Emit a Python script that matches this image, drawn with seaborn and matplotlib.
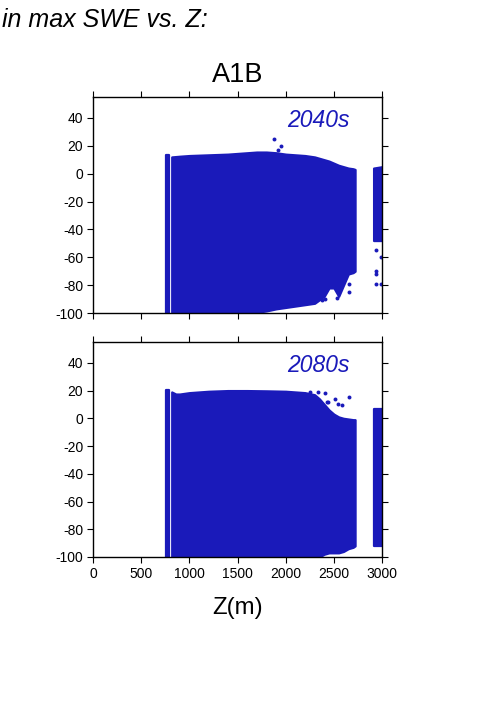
import numpy as np
import pandas as pd
import matplotlib
matplotlib.use("Agg")
import matplotlib.pyplot as plt
import seaborn as sns

sns.set_style("ticks")
plt.rcParams['font.family'] = ['Liberation Sans', 'DejaVu Sans']
plt.rcParams['axes.unicode_minus'] = False
plt.rcParams['text.color'] = 'black'
plt.rcParams['axes.labelcolor'] = 'black'
plt.rcParams['xtick.color'] = 'black'
plt.rcParams['ytick.color'] = 'black'
plt.rcParams['axes.edgecolor'] = 'black'

BLUE = '#1a1aba'

# ---- data ----
periods = ["2040s", "2080s"]

# left isolated column of points (elevation range, top value)
strip_x = [760, 786]
strip_top_2040 = [13.3, 13.3]
strip_top_2080 = [20.5, 20.5]

# main dense cloud envelope
elev_2040 = [817, 900, 1000, 1200, 1400, 1600, 1700, 1800, 1900, 2000, 2100, 2200,
             2300, 2400, 2450, 2500, 2550, 2600, 2650, 2700, 2720]
top_2040 = [12, 12.5, 13, 13.5, 14, 15, 15.5, 15.5, 15, 14, 13.5, 13,
            12, 10, 9, 7.5, 6, 5, 4, 3.5, 3]
bot_2040 = [-100, -100, -100, -100, -100, -100, -99.5, -98.5, -97, -96, -95, -94,
            -93, -88, -82, -82, -88, -80, -72, -71, -70]

elev_2080 = [817, 860, 900, 1000, 1200, 1400, 1600, 1800, 2000, 2100, 2200, 2300,
             2350, 2400, 2450, 2500, 2550, 2600, 2650, 2700, 2720]
top_2080 = [19, 17.5, 17.5, 18.5, 19.5, 20, 20, 19.8, 19.5, 19, 18.5, 17,
            14, 10, 6, 3, 1, 0, -0.5, -1, -1]
bot_2080 = [-100, -100, -100, -100, -100, -100, -100, -100, -100, -100, -100, -100,
            -100, -98, -97, -97, -97, -96, -94, -93, -92]

# far-right cluster envelope
far_x = [2912, 3000]
far_top_2040 = [4, 5]
far_bot_2040 = [-48, -48]
far_top_2080 = [6.5, 6.5]
far_bot_2080 = [-92, -92]

# scattered outliers
out_x_2040 = [1878, 1948, 1923, 2530, 2660, 2655, 2940, 2940, 2940, 2985, 2985, 2940, 2410, 2380]
out_y_2040 = [24.8, 19.8, 16.9, -89, -79, -85, -70, -72, -79, -60, -79, -55, -90, -91]
out_x_2080 = [2252, 2336, 2425, 2543, 2580, 2657, 2512, 2440, 2408]
out_y_2080 = [19, 18.8, 11.5, 10, 9.4, 15.2, 13.8, 11.8, 18.6]

xticks = [0, 500, 1000, 1500, 2000, 2500, 3000]
yticks = [-100, -80, -60, -40, -20, 0, 20, 40]

panels = [
    dict(label="2040s", strip_top=strip_top_2040, elev=elev_2040, top=top_2040, bot=bot_2040,
         far_top=far_top_2040, far_bot=far_bot_2040, ox=out_x_2040, oy=out_y_2040),
    dict(label="2080s", strip_top=strip_top_2080, elev=elev_2080, top=top_2080, bot=bot_2080,
         far_top=far_top_2080, far_bot=far_bot_2080, ox=out_x_2080, oy=out_y_2080),
]

fig = plt.figure(figsize=(5.01, 7.09), dpi=100)
rects = [[0.1856, 0.5585, 0.577, 0.3047], [0.1856, 0.2144, 0.577, 0.3032]]

for i, (p, r) in enumerate(zip(panels, rects)):
    ax = fig.add_axes(r)
    kw = dict(color=BLUE, linewidth=1.6, edgecolor=BLUE, joinstyle='round')
    ax.fill_between(strip_x, p['strip_top'], [-100, -100], **kw)
    ax.fill_between(p['elev'], p['top'], p['bot'], **kw)
    ax.fill_between(far_x, p['far_top'], p['far_bot'], **kw)
    df = pd.DataFrame({'Z': p['ox'], 'd': p['oy']})
    sns.scatterplot(data=df, x='Z', y='d', ax=ax, color=BLUE, s=8, linewidth=0)
    ax.set_xlim(0, 3000)
    ax.set_ylim(-100, 55)
    ax.set_xticks(xticks)
    ax.set_yticks(yticks)
    ax.set_xlabel('')
    ax.set_ylabel('')
    ax.tick_params(direction='out', length=4, width=0.8, top=True, right=True,
                   labelsize=10, pad=3, colors='black')
    for s in ax.spines.values():
        s.set_linewidth(1.0)
        s.set_visible(True)
        s.set_color('black')
    if i == 0:
        ax.tick_params(labelbottom=False)
    else:
        ax.set_xticklabels([str(t) for t in xticks])
        ax.set_xlabel('Z(m)', fontsize=17.3, labelpad=12, color='black')
    ax.text(0.889, 0.862, p['label'], transform=ax.transAxes, ha='right', va='baseline',
            fontsize=16.5, style='italic', color=BLUE)

fig.text(0.004, 0.962, "in max SWE vs. Z:", fontsize=18, style='italic', ha='left',
         va='baseline', color='black')
fig.text(0.474, 0.8843, "A1B", fontsize=19.5, ha='center', va='baseline', color='black')

fig.savefig("out.png", dpi=100)
